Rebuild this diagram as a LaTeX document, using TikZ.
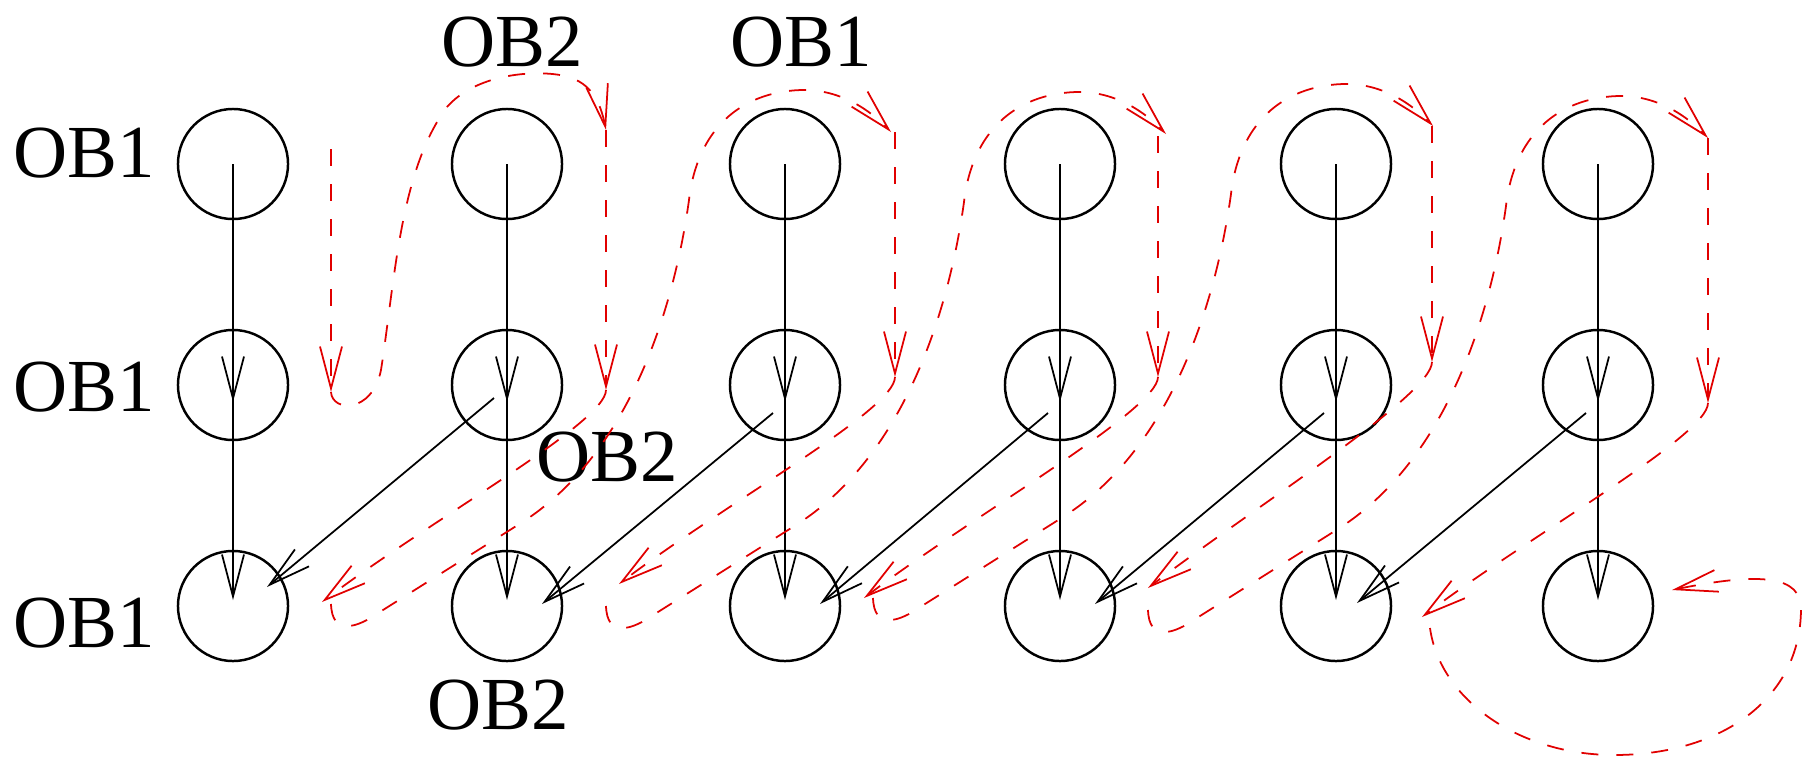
\documentclass[tikz,border=0pt]{standalone}
\usepackage{fontspec}
\setmainfont{Liberation Serif}
\usetikzlibrary{arrows.meta}
\definecolor{pathred}{RGB}{225,0,0}
\begin{document}
\begin{tikzpicture}[x=0.01cm,y=-0.01cm,
  state/.style={circle,draw,line width=0.7pt,minimum size=1.1cm,inner sep=0pt},
  lbl/.style={font=\fontsize{21.3pt}{24pt}\selectfont,inner sep=0pt,anchor=base},
  barb/.style={-{Straight Barb[length=0.42cm,width=0.22cm]}},
  flow/.style={barb,line width=0.5pt},
  trace/.style={barb,draw=pathred,line width=0.5pt,dash pattern=on 0.17cm off 0.18cm},
]
\useasboundingbox (0,0) rectangle (1814,760);

% three rows of states per column
\foreach \i/\x in {1/233,2/507,3/785,4/1060,5/1336,6/1598}{
  \node[state] (a\i) at (\x,164) {};
  \node[state] (b\i) at (\x,385) {};
  \node[state] (c\i) at (\x,606) {};
}

% labels
\node[lbl] (l1) at (84,177) {OB1};
\node[lbl] (l2) at (84,411) {OB1};
\node[lbl] (l3) at (84,647) {OB1};
\node[lbl] (t2) at (512,66) {OB2};
\node[lbl] (t3) at (801,66) {OB1};
\node[lbl] (m2) at (607,481) {OB2};
\node[lbl] (u2) at (498,729) {OB2};

% vertical transitions
\foreach \i in {1,...,6}{
  \draw[flow] (a\i.center) -- ([shift={(0,17)}]b\i.center);
  \draw[flow] (b\i.center) -- ([shift={(0,-6)}]c\i.center);
}

% diagonal transitions
\draw[flow] ([shift={(-13,13)}]b2.center) -- ([shift={(34,-19)}]c1.center);
\foreach \i/\j in {3/2,4/3,5/4}
  \draw[flow] ([shift={(-12,28)}]b\i.center) -- ([shift={(35,-2)}]c\j.center);
\draw[flow] ([shift={(-12,28)}]b6.center) -- ([shift={(21,-3)}]c5.center);

% trace: vertical runs beside each column
\coordinate (vs1) at (331,149);  \coordinate (ve1) at (331,392);
\coordinate (vs2) at (606,130);  \coordinate (ve2) at (606,390);
\coordinate (vs3) at (895,132);  \coordinate (ve3) at (895,377);
\coordinate (vs4) at (1158,136); \coordinate (ve4) at (1158,377);
\coordinate (vs5) at (1432,126); \coordinate (ve5) at (1432,362);
\coordinate (vs6) at (1708,138); \coordinate (ve6) at (1708,403);
% trace: tips beside the bottom row
\coordinate (d2) at (322,602);
\coordinate (d3) at (619,584);
\coordinate (d4) at (864,598);
\coordinate (d5) at (1148,588);
\coordinate (d6) at (1422,617);
\coordinate (fin) at (1672,590);

\foreach \k in {1,...,6}
  \draw[trace] (vs\k) -- (ve\k);

% first turn, over the second column
\draw[trace] (ve1) .. controls (332,412) and (372,414) .. (381,370)
  .. controls (395,280) and (400,170) .. (447,107)
  .. controls (475,75) and (530,70) .. (560,75)
  .. controls (590,80) and (600,100) .. (vs2);

% back down to the bottom row of the previous column
\foreach \k in {2,...,6}
  \draw[trace] (ve\k) .. controls +(0,33) and +(108,-82) .. (d\k);

% from the bottom row up and over the next column
\foreach \sx/\sy in {331/604,606/606,873/598,1148/610}{
  \begin{scope}[shift={(\sx,\sy)}]
    \draw[trace] (0,0) .. controls (1,31) and (24,26) .. (52,6) -- (190,-81)
      .. controls (310,-157) and (347,-324) .. (358,-404)
      .. controls (366,-474) and (409,-512) .. (470,-514)
      .. controls (509,-515) and (539,-494) .. (560,-472);
  \end{scope}
}

% closing loop around the last column
\draw[trace] (1430,628) .. controls (1440,700) and (1520,755) .. (1614,755)
  .. controls (1720,755) and (1800,700) .. (1801,610)
  .. controls (1802,575) and (1760,572) .. (fin);
\end{tikzpicture}
\end{document}
